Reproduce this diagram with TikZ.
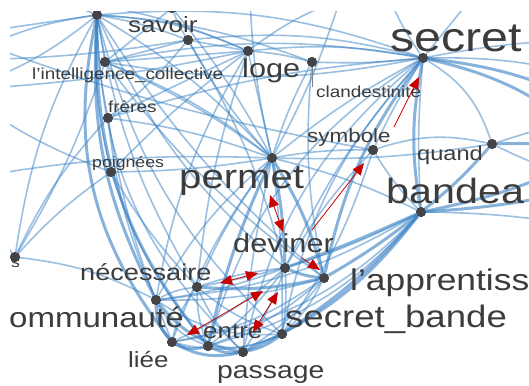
\documentclass[tikz,border=0pt]{standalone}
\usepackage{fontspec}
\setmainfont{Liberation Sans}[FakeStretch=1.18]
\usetikzlibrary{arrows.meta}
\definecolor{edgeblue}{RGB}{55,128,195}
\definecolor{txt}{RGB}{60,60,60}
\definecolor{dotc}{RGB}{68,68,72}
\definecolor{arrred}{RGB}{200,0,0}
\newcommand\lsz[1]{\fontsize{#1}{#1}\selectfont}
\begin{document}
\begin{tikzpicture}[x=1pt,y=1pt,
  dotn/.style={circle,fill=dotc,inner sep=0,minimum size=10pt},
  lbl/.style={text=txt,inner sep=0,anchor=base west},
  e/.style={draw=edgeblue,opacity=0.5,line width=1.6pt},
  eb/.style={draw=edgeblue,opacity=0.6,line width=3pt},
  ra/.style={draw=arrred,line width=0.8pt,-{Triangle[length=12pt,width=10pt]}},
  rda/.style={draw=arrred,line width=0.8pt,{Triangle[length=12pt,width=10pt]}-{Triangle[length=12pt,width=10pt]}},
]
\useasboundingbox (0,0) rectangle (529,-385);
\begin{scope}
\clip (10,-12) rectangle (529,-385);
% off-canvas coordinates
\coordinate (oL1) at (-40,-35);
\coordinate (oL2) at (-40,-90);
\coordinate (oL3) at (-40,-60);
\coordinate (oL4) at (-40,-180);
\coordinate (oT1) at (60,-0);
\coordinate (oT2) at (250,0);
\coordinate (oT3) at (340,0);
\coordinate (oT4) at (470,0);
\coordinate (oT5) at (390,0);
\coordinate (oR1) at (600,-40);
\coordinate (oR2) at (600,-110);
\coordinate (oR3) at (600,-150);
\coordinate (oR4) at (600,-185);
\coordinate (oR5) at (600,-230);
\coordinate (oR6) at (600,-80);
% nodes
\node[dotn] (hub) at (97,-15) {};
\node[dotn] (topn) at (172,-8) {};
\node[dotn] (savoir) at (188,-40) {};
\node[dotn] (loge) at (248,-51) {};
\node[dotn] (intel) at (105,-62) {};
\node[dotn] (freres) at (108,-118) {};
\node[dotn] (poignees) at (111,-172) {};
\node[dotn] (clandest) at (312,-62) {};
\node[dotn] (secret) at (423,-58) {};
\node[dotn] (symbole) at (373,-150) {};
\node[dotn] (quand) at (492,-144) {};
\node[dotn] (permet) at (272,-158) {};
\node[dotn] (bandeau) at (421,-212) {};
\node[dotn] (deviner) at (285,-268) {};
\node[dotn] (apprent) at (324,-278) {};
\node[dotn] (necess) at (197,-287) {};
\node[dotn] (commun) at (156,-300) {};
\node[dotn] (liee) at (172,-342) {};
\node[dotn] (entre) at (208,-346) {};
\node[dotn] (passage) at (243,-352) {};
\node[dotn] (secretb) at (282,-334) {};
\node[dotn] (leftn) at (15,-257) {};
% edges from hub
\draw[eb] (hub) to[bend right=25] (liee);
\draw[eb] (hub) to[bend right=20] (entre);
\draw[e] (hub) to[bend right=22] (passage);
\draw[eb] (hub) to[bend right=15] (commun);
\draw[e] (hub) to[bend right=10] (necess);
\draw[e] (hub) to[bend right=16] (secretb);
\draw[e] (hub) to[bend right=12] (deviner);
\draw[e] (hub) to[bend right=8] (apprent);
\draw[e] (hub) to[bend left=10] (loge);
\draw[e] (hub) to[bend left=5] (savoir);
\draw[e] (hub) -- (intel);
\draw[e] (hub) to[bend right=5] (freres);
\draw[e] (hub) to[bend right=8] (poignees);
\draw[e] (hub) to[bend left=8] (permet);
\draw[e] (hub) to[bend left=12] (secret);
\draw[e] (hub) -- (oL1);
\draw[e] (hub) to[bend left=10] (oL2);
\draw[e] (hub) to[bend right=10] (oL3);
\draw[e] (hub) -- (oT1);
\draw[e] (hub) to[bend left=8] (clandest);
% secret
\draw[eb] (secret) to[bend right=10] (bandeau);
\draw[e] (secret) to[bend right=4] (bandeau);
\draw[eb] (secret) to[bend right=12] (apprent);
\draw[e] (secret) to[bend right=8] (deviner);
\draw[e] (secret) to[bend right=5] (permet);
\draw[e] (secret) to[bend right=15] (secretb);
\draw[e] (secret) to[bend right=18] (passage);
\draw[e] (secret) to[bend right=20] (entre);
\draw[e] (secret) to[bend right=3] (symbole);
\draw[e] (secret) to[bend left=4] (clandest);
\draw[e] (secret) to[bend right=8] (loge);
\draw[e] (secret) to[bend right=10] (savoir);
\draw[e] (secret) to[bend right=10] (intel);
\draw[eb] (secret) to[bend left=10] (oR2);
\draw[eb] (secret) to[bend left=15] (oR3);
\draw[e] (secret) to[bend left=5] (oR1);
\draw[e] (secret) to[bend left=8] (oR6);
\draw[e] (secret) -- (oT4);
\draw[e] (secret) to[bend left=5] (oT5);
\draw[e] (secret) to[bend left=20] (quand);
% permet
\draw[eb] (permet) to[bend left=5] (deviner);
\draw[eb] (permet) to[bend left=8] (apprent);
\draw[e] (permet) to[bend left=4] (secretb);
\draw[e] (permet) to[bend right=4] (passage);
\draw[eb] (permet) to[bend right=6] (entre);
\draw[e] (permet) to[bend right=8] (liee);
\draw[e] (permet) to[bend right=10] (commun);
\draw[e] (permet) to[bend right=6] (necess);
\draw[e] (permet) -- (loge);
\draw[e] (permet) to[bend left=6] (savoir);
\draw[e] (permet) to[bend left=5] (symbole);
\draw[e] (permet) to[bend right=8] (intel);
\draw[e] (permet) to[bend right=6] (freres);
\draw[e] (permet) to[bend left=4] (poignees);
\draw[e] (permet) to[bend left=5] (oT2);
\draw[e] (permet) to[bend right=5] (oT3);
\draw[e] (permet) to[bend right=6] (oL4);
\draw[e] (permet) to[bend right=5] (quand);
% bandeau
\draw[eb] (bandeau) to[bend left=8] (secretb);
\draw[eb] (bandeau) to[bend left=4] (apprent);
\draw[eb] (bandeau) to[bend left=2] (deviner);
\draw[eb] (bandeau) to[bend left=14] (passage);
\draw[e] (bandeau) to[bend left=16] (entre);
\draw[e] (bandeau) to[bend left=18] (liee);
\draw[e] (bandeau) to[bend left=12] (commun);
\draw[e] (bandeau) to[bend left=8] (necess);
\draw[eb] (bandeau) to[bend right=5] (quand);
\draw[eb] (bandeau) to[bend right=8] (oR3);
\draw[eb] (bandeau) to[bend right=5] (oR4);
\draw[e] (bandeau) to[bend left=5] (oR5);
\draw[e] (bandeau) to[bend right=6] (permet);
\draw[e] (bandeau) to[bend left=6] (symbole);
% quand
\draw[e] (quand) -- (oR2);
\draw[eb] (quand) to[bend left=5] (oR3);
\draw[e] (quand) to[bend right=5] (oR4);
\draw[e] (quand) to[bend right=15] (symbole);
% loge and top
\draw[e] (loge) -- (intel);
\draw[e] (loge) -- (savoir);
\draw[e] (loge) to[bend left=5] (clandest);
\draw[e] (loge) to[bend left=8] (oT3);
\draw[e] (loge) to[bend right=8] (oT1);
\draw[e] (loge) -- (freres);
\draw[e] (loge) to[bend right=4] (poignees);
\draw[e] (loge) to[bend right=10] (commun);
\draw[e] (loge) to[bend right=6] (necess);
\draw[e] (loge) to[bend left=4] (oL2);
\draw[e] (savoir) -- (intel);
\draw[e] (savoir) to[bend left=4] (oL3);
\draw[e] (savoir) to[bend left=6] (freres);
\draw[e] (savoir) to[bend left=8] (deviner);
\draw[e] (topn) to[bend left=5] (permet);
\draw[e] (topn) to[bend right=6] (savoir);
\draw[e] (topn) -- (intel);
\draw[e] (intel) to[bend right=10] (secret);
\draw[e] (intel) to[bend left=6] (permet);
\draw[e] (intel) to[bend right=8] (apprent);
\draw[e] (freres) to[bend left=6] (secret);
\draw[e] (freres) to[bend right=8] (commun);
\draw[e] (freres) to[bend right=6] (liee);
\draw[e] (poignees) to[bend right=6] (necess);
\draw[e] (poignees) to[bend right=10] (entre);
\draw[e] (poignees) to[bend left=8] (oL2);
\draw[e] (clandest) to[bend right=8] (apprent);
\draw[e] (clandest) to[bend right=5] (permet);
\draw[e] (symbole) to[bend right=6] (deviner);
\draw[e] (symbole) to[bend left=5] (oL1);
\draw[e] (symbole) to[bend left=8] (secretb);
% left node
\draw[e] (leftn) to[bend left=6] (poignees);
\draw[e] (leftn) to[bend left=8] (freres);
\draw[e] (leftn) to[bend left=10] (hub);
\draw[e] (leftn) to[bend left=10] (commun);
\draw[e] (leftn) -- (oL4);
\draw[e] (leftn) to[bend right=6] (intel);
% bottom cluster
\draw[eb] (commun) to[bend right=20] (liee);
\draw[e] (commun) to[bend right=20] (entre);
\draw[eb] (commun) to[bend right=20] (passage);
\draw[e] (commun) to[bend right=18] (secretb);
\draw[e] (commun) to[bend right=8] (apprent);
\draw[e] (commun) to[bend right=6] (deviner);
\draw[e] (commun) to[bend left=10] (necess);
\draw[eb] (liee) to[bend right=20] (entre);
\draw[eb] (liee) to[bend right=20] (passage);
\draw[e] (liee) to[bend right=18] (secretb);
\draw[e] (liee) to[bend right=12] (apprent);
\draw[e] (liee) to[bend right=8] (deviner);
\draw[eb] (entre) to[bend right=15] (passage);
\draw[e] (entre) to[bend right=15] (secretb);
\draw[e] (entre) to[bend right=10] (apprent);
\draw[e] (entre) to[bend right=8] (deviner);
\draw[eb] (passage) to[bend right=12] (secretb);
\draw[e] (passage) to[bend right=10] (apprent);
\draw[e] (passage) to[bend right=6] (deviner);
\draw[e] (necess) to[bend left=6] (deviner);
\draw[eb] (necess) to[bend right=8] (apprent);
\draw[e] (necess) to[bend right=10] (secretb);
\draw[e] (necess) to[bend right=10] (passage);
\draw[e] (necess) to[bend right=12] (liee);
\draw[e] (necess) to[bend right=10] (entre);
\draw[eb] (deviner) to[bend right=8] (apprent);
\draw[e] (secretb) to[bend right=10] (apprent);
\draw[e] (secretb) to[bend right=6] (deviner);
% clandestinite tick
\coordinate (ctick) at (312,-87);
\draw[draw=gray,line width=1pt] (clandest) -- (ctick);
% redraw dots on top
\foreach \n in {hub,topn,savoir,loge,intel,freres,poignees,clandest,secret,symbole,quand,permet,bandeau,deviner,apprent,necess,commun,liee,entre,passage,secretb,leftn}
  \fill[dotc] (\n) circle (5pt);
\end{scope}
% labels
\node[lbl,font=\lsz{22}] (savoirL) at (128,-33) {savoir};
\node[lbl,font=\lsz{26}] (logeL) at (242,-78) {loge};
\node[lbl,font=\lsz{16}] (intelL) at (32,-80) {l'intelligence\_collective};
\node[lbl,font=\lsz{16}] (freresL) at (108,-112) {frères};
\node[lbl,font=\lsz{15}] (poigneesL) at (92,-167) {poignées};
\node[lbl,font=\lsz{16}] (clandestL) at (316,-97) {clandestinite};
\node[lbl,font=\lsz{19}] (symboleL) at (307,-142) {symbole};
\node[lbl,font=\lsz{20}] (quandL) at (417,-160) {quand};
\node[lbl,font=\lsz{41}] (secretL) at (390,-52) {secret};
\node[lbl,font=\lsz{34}] (permetL) at (179,-188) {permet};
\node[lbl,font=\lsz{35}] (bandeauL) at (386,-203) {bandea};
\node[lbl,font=\lsz{26}] (devinerL) at (233,-252) {deviner};
\node[lbl,font=\lsz{30}] (apprentL) at (350,-290) {l'apprentiss};
\node[lbl,font=\lsz{31}] (secretbL) at (285,-327) {secret\_bande};
\node[lbl,font=\lsz{23}] (necessL) at (80,-280) {nécessaire};
\node[lbl,font=\lsz{28}] (communL) at (9,-327) {ommunauté};
\node[lbl,font=\lsz{22}] (lieeL) at (128,-367) {liée};
\node[lbl,font=\lsz{22}] (entreL) at (203,-338) {entre};
\node[lbl,font=\lsz{24}] (passageL) at (217,-378) {passage};
\node[lbl,font=\lsz{15}] (leftL) at (11,-267) {s};
% red arrows
\coordinate (a1a) at (270,-195); \coordinate (a1b) at (283,-232);
\coordinate (a2a) at (312,-230); \coordinate (a2b) at (364,-163);
\coordinate (a3a) at (394,-127); \coordinate (a3b) at (419,-77);
\coordinate (a4a) at (302,-258); \coordinate (a4b) at (320,-270);
\coordinate (a5a) at (220,-283); \coordinate (a5b) at (258,-273);
\coordinate (a6a) at (187,-335); \coordinate (a6b) at (263,-291);
\coordinate (a7a) at (253,-332); \coordinate (a7b) at (278,-292);
\draw[rda] (a1a) -- (a1b);
\draw[ra] (a2a) -- (a2b);
\draw[ra] (a3a) -- (a3b);
\draw[ra] (a4a) -- (a4b);
\draw[rda] (a5a) -- (a5b);
\draw[rda] (a6a) -- (a6b);
\draw[rda] (a7a) -- (a7b);
\end{tikzpicture}
\end{document}
